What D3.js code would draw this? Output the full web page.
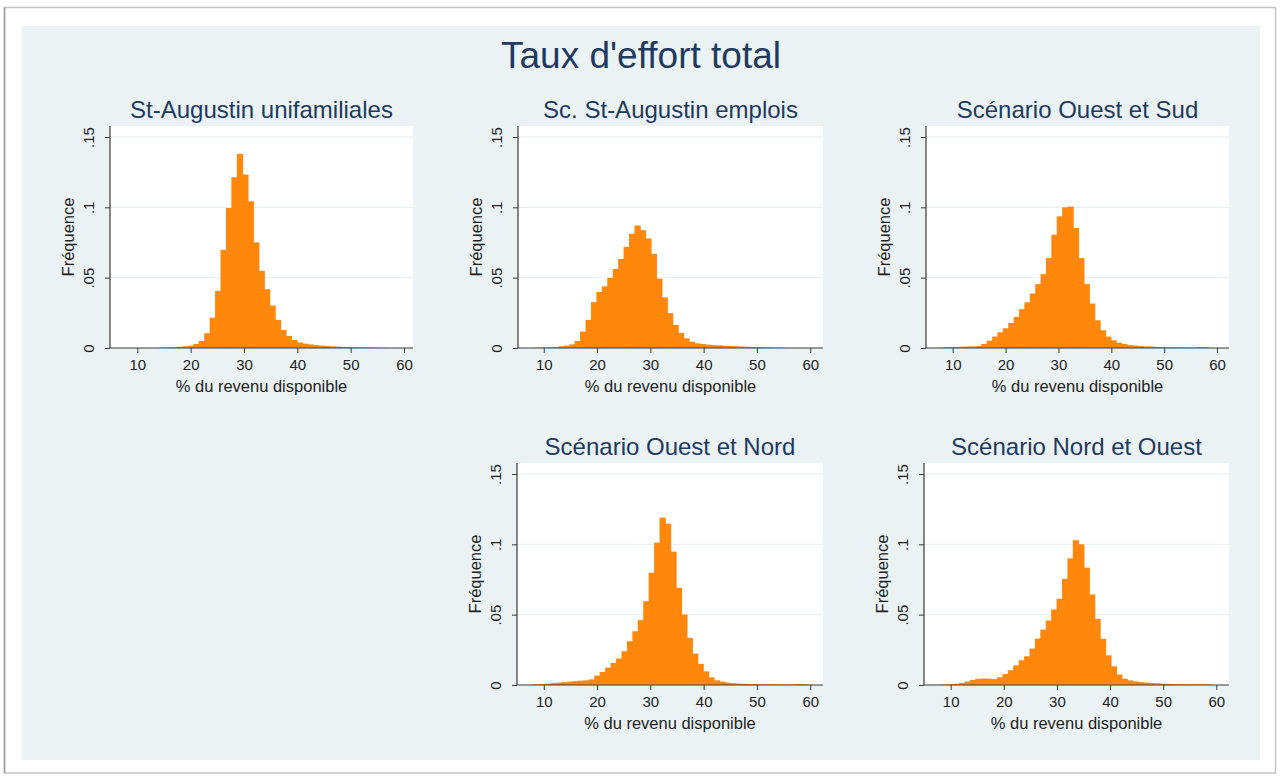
<!DOCTYPE html>
<html lang="fr">
<head>
<meta charset="utf-8">
<title>Taux d'effort total</title>
<script src="https://cdn.jsdelivr.net/npm/d3@7"></script>
<style>
  html, body { margin: 0; padding: 0; background: #ffffff; }
  svg { display: block; font-family: "Liberation Sans", Arial, sans-serif; }
</style>
</head>
<body>
<svg id="chart" width="1281" height="776"></svg>
<script>
// ---- Data -------------------------------------------------------------
const chartTitle = "Taux d'effort total";
const scenarioNames = [
  "St-Augustin unifamiliales",
  "Sc. St-Augustin emplois",
  "Scénario Ouest et Sud",
  "Scénario Ouest et Nord",
  "Scénario Nord et Ouest"
];
const yAxisTitle = "Fréquence";
const xAxisTitle = "% du revenu disponible";

// Histogram bins (percent of disposable income): first edge per scenario, common width
const binStarts = [5.2, 5.6, 5.2, 5.2, 5.45];
const binWidth = 1.02;

// Bin frequencies (fraction of households per bin)
const freqUnifamiliales = [
  0, 0, 0, 0, 0, 0, 0, 0, 0.0001, 0.0003,
  0.0004, 0.0006, 0.0009, 0.0012, 0.0017, 0.0029, 0.005, 0.0105, 0.0216, 0.0406,
  0.0698, 0.0995, 0.1214, 0.138, 0.1233, 0.1043, 0.0751, 0.0549, 0.0418, 0.0302,
  0.020, 0.0128, 0.0086, 0.0057, 0.004, 0.0031, 0.0026, 0.0021, 0.0017, 0.0014,
  0.0012, 0.001, 0.0008, 0.0007, 0.0005, 0.0004, 0.0003, 0.0003, 0.0002, 0.0001,
  0.0001, 0, 0, 0, 0
];
const freqEmplois = [
  0, 0, 0.0001, 0.0002, 0.0003, 0.0005, 0.0008, 0.0012, 0.0017, 0.0026,
  0.005, 0.0117, 0.020, 0.0326, 0.0398, 0.0438, 0.0498, 0.0562, 0.0633, 0.0719,
  0.0812, 0.0871, 0.0838, 0.0779, 0.0669, 0.0493, 0.036, 0.0248, 0.0164, 0.0107,
  0.0069, 0.0045, 0.0033, 0.0029, 0.0024, 0.0021, 0.0019, 0.0016, 0.0014, 0.0012,
  0.001, 0.0009, 0.0007, 0.0006, 0.0005, 0.0004, 0.0003, 0.0002, 0.0001, 0,
  0, 0, 0, 0, 0
];
const freqOuestSud = [
  0, 0, 0.0002, 0.0004, 0.0006, 0.0008, 0.0009, 0.001, 0.0011, 0.0014,
  0.0029, 0.0052, 0.0081, 0.0112, 0.014, 0.0178, 0.0221, 0.0276, 0.0325, 0.0387,
  0.0454, 0.0525, 0.0639, 0.0805, 0.0936, 0.1, 0.1005, 0.0853, 0.0639, 0.0454,
  0.0316, 0.0197, 0.0126, 0.0081, 0.0055, 0.0038, 0.0029, 0.0021, 0.0017, 0.0014,
  0.0011, 0.001, 0.0008, 0.0006, 0.0005, 0.0004, 0.0003, 0.0003, 0.0002, 0.0002,
  0.0006, 0.0006, 0.0001, 0, 0
];
const freqOuestNord = [
  0, 0, 0.0002, 0.0004, 0.0007, 0.001, 0.0014, 0.0017, 0.002, 0.0024,
  0.0028, 0.0031, 0.0033, 0.004, 0.0067, 0.0093, 0.0124, 0.0157, 0.0188, 0.024,
  0.0311, 0.0382, 0.0461, 0.0596, 0.0798, 0.1012, 0.119, 0.1147, 0.0948, 0.0691,
  0.0501, 0.0335, 0.0223, 0.015, 0.0097, 0.0055, 0.0033, 0.0024, 0.0017, 0.0013,
  0.001, 0.0008, 0.0007, 0.0006, 0.0005, 0.0004, 0.0004, 0.0003, 0.0003, 0.0002,
  0.0003, 0.0006, 0.0005, 0.0002, 0
];
const freqNordOuest = [
  0, 0.0001, 0.0002, 0.0004, 0.0006, 0.0009, 0.0014, 0.0024, 0.0036, 0.0044,
  0.0046, 0.0045, 0.0042, 0.0055, 0.0078, 0.0105, 0.014, 0.0176, 0.0204, 0.0259,
  0.033, 0.0394, 0.0458, 0.0537, 0.0613, 0.0755, 0.09, 0.1029, 0.1, 0.0834,
  0.0644, 0.047, 0.0328, 0.0211, 0.0133, 0.0074, 0.0045, 0.0033, 0.0026, 0.0021,
  0.0017, 0.0014, 0.0012, 0.001, 0.0008, 0.0006, 0.0005, 0.0004, 0.0003, 0.0004,
  0.0005, 0.0004, 0.0002, 0, 0
];
const frequencies = [freqUnifamiliales, freqEmplois, freqOuestSud, freqOuestNord, freqNordOuest];

// Axis ranges and ticks
const xRanges = [[4.88, 61.69], [5.17, 62.39], [4.94, 62.27], [4.98, 62.39], [4.97, 62.39]];
const xTicks = [10, 20, 30, 40, 50, 60];
const yTicks = [0, 0.05, 0.1, 0.15];
const yTickLabels = ["0", ".05", ".1", ".15"];

// ---- Layout -----------------------------------------------------------
const panelBoxes = [
  { left: 110, top: 126, right: 413, bottom: 348 },
  { left: 518, top: 126, right: 823, bottom: 348 },
  { left: 926, top: 126, right: 1229, bottom: 348 },
  { left: 517, top: 463, right: 823, bottom: 685 },
  { left: 924, top: 463, right: 1229, bottom: 685 }
];
const topPad = 11;            // space between the .15 gridline and plot top
const barColor = "#fe870c";
const inkColor = "#1f3a60";
const axisColor = "#3a3a3a";
const textColor = "#222222";
const fontStack = "\"Liberation Sans\", Arial, sans-serif";

const svg = d3.select("#chart");

// page frame and graph region
svg.append("rect")
  .attr("x", 4.5).attr("y", 7.5).attr("width", 1271).attr("height", 765.5)
  .attr("fill", "#ffffff").attr("stroke", "#c4c4c4").attr("stroke-width", 1.5);
svg.append("line")
  .attr("x1", 4.5).attr("x2", 4.5).attr("y1", 7.5).attr("y2", 773)
  .attr("stroke", "#9a9a9a").attr("stroke-width", 1.5);
svg.append("rect")
  .attr("x", 22).attr("y", 26).attr("width", 1238).attr("height", 734)
  .attr("fill", "#eaf2f3");

svg.append("text")
  .attr("x", 641).attr("y", 68)
  .attr("text-anchor", "middle")
  .attr("font-size", 37)
  .attr("fill", inkColor)
  .text(chartTitle);

panelBoxes.forEach((box, i) => {
  const g = svg.append("g");
  const x = d3.scaleLinear().domain(xRanges[i]).range([box.left, box.right]);
  const y = d3.scaleLinear().domain([0, 0.15]).range([box.bottom, box.top + topPad]);

  // plot region
  g.append("rect")
    .attr("x", box.left).attr("y", box.top)
    .attr("width", box.right - box.left).attr("height", box.bottom - box.top)
    .attr("fill", "#ffffff");

  // horizontal gridlines
  g.append("g").selectAll("line")
    .data(yTicks.filter(t => t > 0))
    .join("line")
    .attr("x1", box.left).attr("x2", box.right)
    .attr("y1", d => y(d)).attr("y2", d => y(d))
    .attr("stroke", "#e6edef").attr("stroke-width", 1);

  // histogram bars (slight overlap keeps adjacent bars seamless)
  const bins = frequencies[i].map((f, k) => ({
    x0: binStarts[i] + k * binWidth,
    x1: binStarts[i] + (k + 1) * binWidth,
    f
  })).filter(b => b.f > 0);
  g.append("g").selectAll("rect")
    .data(bins)
    .join("rect")
    .attr("x", d => x(d.x0))
    .attr("width", d => x(d.x1) - x(d.x0) + 0.8)
    .attr("y", d => y(d.f))
    .attr("height", d => y(0) - y(d.f))
    .attr("fill", barColor);

  // x axis
  const xAxis = g.append("g")
    .attr("transform", `translate(0,${box.bottom})`)
    .call(d3.axisBottom(x).tickValues(xTicks).tickSize(5).tickPadding(6).tickSizeOuter(0));
  xAxis.select(".domain").attr("stroke", axisColor).attr("stroke-width", 1.2)
    .attr("d", `M${box.left},0H${box.right}`);
  xAxis.selectAll(".tick line").attr("stroke", axisColor);
  xAxis.selectAll(".tick text")
    .attr("font-size", 15).attr("fill", textColor)
    .attr("font-family", fontStack);

  // y axis with rotated labels
  const yAxis = g.append("g")
    .attr("transform", `translate(${box.left},0)`)
    .call(d3.axisLeft(y).tickValues(yTicks).tickSize(5).tickSizeOuter(0)
      .tickFormat((d, j) => yTickLabels[j]));
  yAxis.select(".domain").attr("stroke", axisColor).attr("stroke-width", 1.2)
    .attr("d", `M0,${box.top}V${box.bottom}`);
  yAxis.selectAll(".tick line").attr("stroke", axisColor);
  yAxis.selectAll(".tick text")
    .attr("font-size", 15).attr("fill", textColor)
    .attr("font-family", fontStack)
    .attr("x", null).attr("dy", null)
    .attr("text-anchor", "middle")
    .attr("transform", "translate(-16,0) rotate(-90)");

  // axis titles
  g.append("text")
    .attr("transform", `translate(${box.left - 36},${(box.top + box.bottom) / 2}) rotate(-90)`)
    .attr("text-anchor", "middle")
    .attr("font-size", 16.5).attr("fill", textColor)
    .text(yAxisTitle);
  g.append("text")
    .attr("x", (box.left + box.right) / 2).attr("y", box.bottom + 44)
    .attr("text-anchor", "middle")
    .attr("font-size", 16.5).attr("fill", textColor)
    .text(xAxisTitle);

  // panel title
  g.append("text")
    .attr("x", (box.left + box.right) / 2).attr("y", box.top - 8)
    .attr("text-anchor", "middle")
    .attr("font-size", 24).attr("fill", inkColor)
    .text(scenarioNames[i]);
});
</script>
</body>
</html>
